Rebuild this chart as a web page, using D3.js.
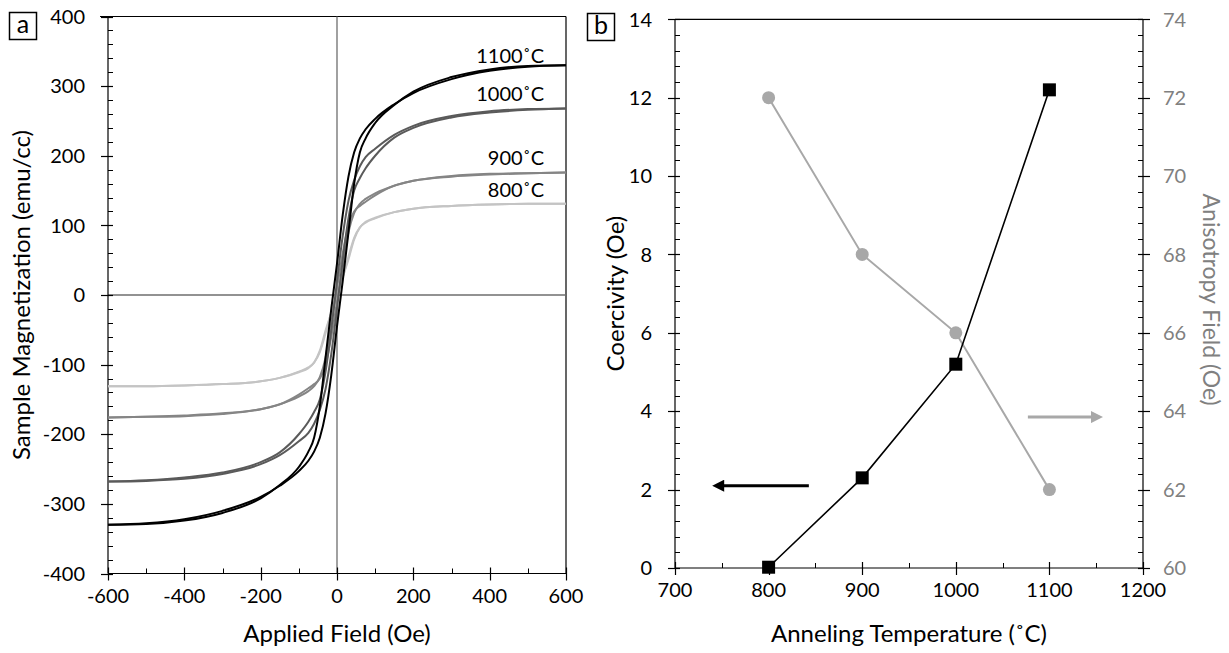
<!DOCTYPE html>
<html>
<head>
<meta charset="utf-8">
<script src="https://cdn.jsdelivr.net/npm/d3@7"></script>
<style>
  body { margin: 0; background: #fff; }
  svg { display: block; }
  text { font-family: Lato, "Open Sans", sans-serif; fill: #000; }
</style>
</head>
<body>
<svg id="chart" width="1229" height="653"></svg>
<script>
// ---------- Panel (a): M-H hysteresis loops ----------
const fieldOe = [-600, -500, -400, -300, -200, -150, -100, -75, -60, -45, -30, -15, 0,
                 15, 30, 45, 60, 75, 100, 150, 200, 300, 400, 500, 600];

// magnetization (emu/cc) on the descending branch (field sweeping + to -)
const m1100Desc = [-330, -329, -324, -313, -292, -273, -247, -225, -205, -160, -90, -20, 45,
                   115, 170, 205, 225, 238, 253, 274, 290, 310, 322, 328, 330];
// ascending branch (field sweeping - to +)
const m1100Asc  = [-330, -328, -322, -310, -290, -274, -253, -238, -225, -205, -170, -115, -45,
                   20, 90, 160, 205, 225, 247, 273, 292, 313, 324, 329, 330];

const m1000Desc = [-268, -266, -262, -255, -240, -226, -200, -182, -168, -150, -110, -50, 20,
                   85, 135, 165, 185, 198, 210, 230, 243, 257, 264, 267, 268];
const m1000Asc  = [-268, -267, -264, -257, -243, -230, -210, -198, -185, -165, -135, -85, -20,
                   50, 110, 150, 168, 182, 200, 226, 240, 255, 262, 266, 268];

const m900Desc  = [-176, -175, -173, -170, -164, -157, -146, -138, -131, -118, -90, -40, 10,
                   60, 100, 120, 128, 134, 143, 157, 164, 171, 174, 175, 176];
const m900Asc   = [-176, -175, -174, -171, -164, -157, -143, -134, -128, -120, -100, -60, -10,
                   40, 90, 118, 131, 138, 146, 157, 164, 170, 173, 175, 176];

const m800Desc  = [-131, -131, -130, -128, -124, -119, -110, -104, -97, -82, -55, -25, 1,
                   26, 51, 80, 97, 105, 111, 119, 124, 128, 130, 131, 131];
const m800Asc   = [-131, -131, -130, -128, -124, -119, -111, -105, -97, -80, -51, -26, -1,
                   25, 55, 82, 97, 104, 110, 119, 124, 128, 130, 131, 131];

const loopLabels = ["1100˚C", "1000˚C", "900˚C", "800˚C"];
const loopColors = ["#000000", "#5a5a5a", "#858585", "#c4c4c4"];

const fieldTicks = [-600, -400, -200, 0, 200, 400, 600];
const magTicks = [-400, -300, -200, -100, 0, 100, 200, 300, 400];

// ---------- Panel (b): coercivity and anisotropy field vs annealing temperature ----------
const annealTemps = [800, 900, 1000, 1100];
const coercivityOe = [0.02, 2.3, 5.2, 12.2];
const anisotropyOe = [72, 68, 66, 62];

const tempTicks = [700, 800, 900, 1000, 1100, 1200];
const coercTicks = [0, 2, 4, 6, 8, 10, 12, 14];
const anisoTicks = [60, 62, 64, 66, 68, 70, 72, 74];

const svg = d3.select("#chart");
const AXIS = "#000";

// generic tick drawing: majors cross the axis line, minors point into the plot
function yAxisTicks(g, scale, x, majors, minorStep, side, color, labelColor, fmt) {
  const dom = scale.domain();
  const inside = side === "left" ? 1 : -1;
  g.append("line").attr("x1", x).attr("x2", x)
    .attr("y1", scale(dom[0])).attr("y2", scale(dom[1]))
    .attr("stroke", color).attr("stroke-width", 1.2);
  const minors = d3.range(dom[0], dom[1] + 1e-9, minorStep);
  g.selectAll(null).data(minors).join("line")
    .attr("x1", x).attr("x2", x + inside * 5)
    .attr("y1", d => Math.round(scale(d)) + 0.5).attr("y2", d => Math.round(scale(d)) + 0.5)
    .attr("stroke", color).attr("stroke-width", 1);
  g.selectAll(null).data(majors).join("line")
    .attr("x1", x - inside * 7).attr("x2", x + inside * 5)
    .attr("y1", d => Math.round(scale(d)) + 0.5).attr("y2", d => Math.round(scale(d)) + 0.5)
    .attr("stroke", color).attr("stroke-width", 1.2);
  g.selectAll(null).data(majors).join("text")
    .attr("x", side === "left" ? x - 23 : x + 20)
    .attr("y", d => scale(d))
    .attr("dy", "0.36em")
    .attr("text-anchor", side === "left" ? "end" : "start")
    .style("font-size", "20px")
    .style("fill", labelColor)
    .text(fmt);
}

function xAxisTicks(g, scale, y, majors, minorStep, color, fmt) {
  const dom = scale.domain();
  g.append("line").attr("x1", scale(dom[0])).attr("x2", scale(dom[1]))
    .attr("y1", y).attr("y2", y).attr("stroke", color).attr("stroke-width", 1.2);
  const minors = d3.range(dom[0], dom[1] + 1e-9, minorStep);
  g.selectAll(null).data(minors).join("line")
    .attr("x1", d => Math.round(scale(d)) + 0.5).attr("x2", d => Math.round(scale(d)) + 0.5)
    .attr("y1", y).attr("y2", y - 5).attr("stroke", color).attr("stroke-width", 1);
  g.selectAll(null).data(majors).join("line")
    .attr("x1", d => Math.round(scale(d)) + 0.5).attr("x2", d => Math.round(scale(d)) + 0.5)
    .attr("y1", y + 7).attr("y2", y - 6).attr("stroke", color).attr("stroke-width", 1.2);
  g.selectAll(null).data(majors).join("text")
    .attr("x", d => scale(d)).attr("y", y + 29)
    .attr("text-anchor", "middle")
    .style("font-size", "20px")
    .text(fmt);
}

function panelTag(x, y, letter) {
  svg.append("rect").attr("x", x + 0.5).attr("y", y + 0.5).attr("width", 27).attr("height", 27)
    .attr("fill", "#fff").attr("stroke", "#000").attr("stroke-width", 1.5);
  svg.append("text").attr("x", x + 14).attr("y", y + 21).attr("text-anchor", "middle")
    .style("font-size", "25px").text(letter);
}

// ===== Panel (a) =====
const xA = d3.scaleLinear().domain([-600, 600]).range([108, 566]);
const yA = d3.scaleLinear().domain([-400, 400]).range([573.5, 16.5]);
const gA = svg.append("g");

// frame top / right
gA.append("line").attr("x1", 100).attr("x2", xA(600)).attr("y1", yA(400)).attr("y2", yA(400))
  .attr("stroke", AXIS).attr("stroke-width", 1.2);
gA.append("line").attr("x1", xA(600)).attr("x2", xA(600)).attr("y1", yA(400)).attr("y2", yA(-400))
  .attr("stroke", AXIS).attr("stroke-width", 1.2);

// zero lines
gA.append("line").attr("x1", xA(0)).attr("x2", xA(0)).attr("y1", yA(400)).attr("y2", yA(-400))
  .attr("stroke", "#6e6e6e").attr("stroke-width", 1.3);
gA.append("line").attr("x1", xA(-600)).attr("x2", xA(600)).attr("y1", yA(0)).attr("y2", yA(0))
  .attr("stroke", "#6e6e6e").attr("stroke-width", 1.3);

yAxisTicks(gA, yA, xA(-600), magTicks, 20, "left", AXIS, "#000", d => String(d));
xAxisTicks(gA, xA, yA(-400), fieldTicks, 100, AXIS, d => String(d));

const loops = [
  { desc: m1100Desc, asc: m1100Asc },
  { desc: m1000Desc, asc: m1000Asc },
  { desc: m900Desc, asc: m900Asc },
  { desc: m800Desc, asc: m800Asc }
];
const branchLine = d3.line()
  .x(d => xA(d[0])).y(d => yA(d[1]))
  .curve(d3.curveMonotoneX);

// draw lightest loop first so darker loops sit on top
loops.map((l, i) => ({ ...l, i })).reverse().forEach(l => {
  [l.desc, l.asc].forEach(branch => {
    gA.append("path")
      .attr("d", branchLine(fieldOe.map((h, k) => [h, branch[k]])))
      .attr("fill", "none")
      .attr("stroke", loopColors[l.i])
      .attr("stroke-width", 2);
  });
});

// loop labels, right-aligned just above each saturation level
const labelLift = [2, 7, 7, 7];
loops.forEach((l, i) => {
  gA.append("text")
    .attr("x", 544)
    .attr("y", yA(l.desc[l.desc.length - 1]) - labelLift[i])
    .attr("text-anchor", "end")
    .style("font-size", "20px")
    .text(loopLabels[i]);
});

gA.append("text").attr("x", (xA(-600) + xA(600)) / 2).attr("y", 642)
  .attr("text-anchor", "middle").style("font-size", "24px").text("Applied Field (Oe)");
gA.append("text")
  .attr("transform", `translate(30, ${(yA(-400) + yA(400)) / 2}) rotate(-90)`)
  .attr("text-anchor", "middle").style("font-size", "24px").text("Sample Magnetization (emu/cc)");

panelTag(9, 12, "a");

// ===== Panel (b) =====
const xB = d3.scaleLinear().domain([700, 1200]).range([675, 1143]);
const yL = d3.scaleLinear().domain([0, 14]).range([568, 19.3]);
const yR = d3.scaleLinear().domain([60, 74]).range([568, 19.3]);
const gB = svg.append("g");

gB.append("line").attr("x1", xB(700)).attr("x2", xB(1200)).attr("y1", yL(14)).attr("y2", yL(14))
  .attr("stroke", AXIS).attr("stroke-width", 1.2);

yAxisTicks(gB, yL, xB(700), coercTicks, 0.4, "left", AXIS, "#000", d => String(d));
yAxisTicks(gB, yR, xB(1200), anisoTicks, 0.4, "right", AXIS, "#808080", d => String(d));
xAxisTicks(gB, xB, yL(0), tempTicks, 50, AXIS, d => String(d));

const GRAY = "#a8a8a8";
// anisotropy field series (right axis)
gB.append("path")
  .attr("d", d3.line().x((d, i) => xB(annealTemps[i])).y(d => yR(d))(anisotropyOe))
  .attr("fill", "none").attr("stroke", GRAY).attr("stroke-width", 2);
gB.selectAll(null).data(anisotropyOe).join("circle")
  .attr("cx", (d, i) => xB(annealTemps[i])).attr("cy", d => yR(d)).attr("r", 6.5)
  .attr("fill", GRAY);

// coercivity series (left axis)
gB.append("path")
  .attr("d", d3.line().x((d, i) => xB(annealTemps[i])).y(d => yL(d))(coercivityOe))
  .attr("fill", "none").attr("stroke", "#000").attr("stroke-width", 1.6);
gB.selectAll(null).data(coercivityOe).join("rect")
  .attr("x", (d, i) => xB(annealTemps[i]) - 6.5).attr("y", d => yL(d) - 6.5)
  .attr("width", 13).attr("height", 13).attr("fill", "#000");

// axis-pointer arrows
const defs = svg.append("defs");
[["headBlack", "#000"], ["headGray", GRAY]].forEach(([id, c]) => {
  defs.append("marker").attr("id", id).attr("viewBox", "0 0 10 10")
    .attr("refX", 2).attr("refY", 5).attr("markerWidth", 4.6).attr("markerHeight", 4)
    .attr("orient", "auto").attr("markerUnits", "strokeWidth")
    .append("path").attr("d", "M0,0 L10,5 L0,10 z").attr("fill", c);
});
gB.append("line")
  .attr("x1", xB(843)).attr("x2", xB(750)).attr("y1", yL(2.1)).attr("y2", yL(2.1))
  .attr("stroke", "#000").attr("stroke-width", 3).attr("marker-end", "url(#headBlack)");
gB.append("line")
  .attr("x1", xB(1077)).attr("x2", xB(1147)).attr("y1", yR(63.85)).attr("y2", yR(63.85))
  .attr("stroke", GRAY).attr("stroke-width", 3).attr("marker-end", "url(#headGray)");

gB.append("text").attr("x", (xB(700) + xB(1200)) / 2).attr("y", 642)
  .attr("text-anchor", "middle").style("font-size", "24px").text("Anneling Temperature (˚C)");
gB.append("text")
  .attr("transform", `translate(624, ${(yL(0) + yL(14)) / 2}) rotate(-90)`)
  .attr("text-anchor", "middle").style("font-size", "24px").text("Coercivity (Oe)");
gB.append("text")
  .attr("transform", `translate(1203, ${(yR(60) + yR(74)) / 2 + 6}) rotate(90)`)
  .attr("text-anchor", "middle").style("font-size", "23px").style("fill", "#808080")
  .text("Anisotropy Field (Oe)");

panelTag(587, 13, "b");
</script>
</body>
</html>
